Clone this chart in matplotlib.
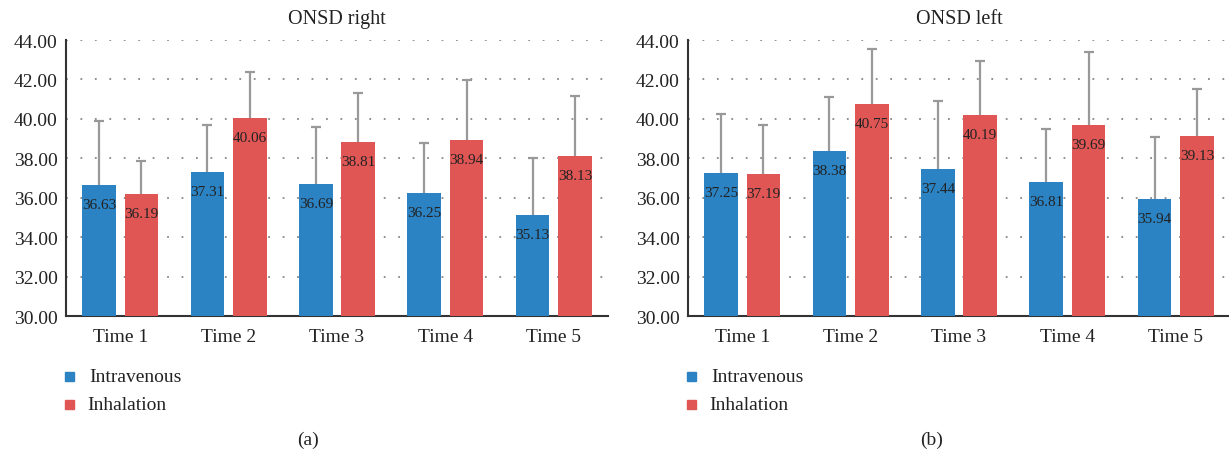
import matplotlib
matplotlib.use("Agg")
import matplotlib.pyplot as plt
from matplotlib.patches import Rectangle
import numpy as np

categories = ["Time 1", "Time 2", "Time 3", "Time 4", "Time 5"]
series_names = ["Intravenous", "Inhalation"]

right_iv = [36.63, 37.31, 36.69, 36.25, 35.13]
right_inh = [36.19, 40.06, 38.81, 38.94, 38.13]
right_iv_sd = [3.25, 2.38, 2.91, 2.51, 2.89]
right_inh_sd = [1.66, 2.34, 2.52, 3.03, 3.05]

left_iv = [37.25, 38.38, 37.44, 36.81, 35.94]
left_inh = [37.19, 40.75, 40.19, 39.69, 39.13]
left_iv_sd = [3.02, 2.72, 3.46, 2.66, 3.13]
left_inh_sd = [2.50, 2.81, 2.77, 3.68, 2.40]

titles = ["ONSD right", "ONSD left"]
panel_labels = ["(a)", "(b)"]
yticks = [30, 32, 34, 36, 38, 40, 42, 44]

BLUE = "#2B83C3"
RED = "#E05655"
FONT = "Liberation Serif"
plt.rcParams["font.family"] = [FONT, "DejaVu Serif"]

W, H = 1229, 460
fig = plt.figure(figsize=(W / 100, H / 100), dpi=100)

panels = [
    dict(px=(66, 608), label_x=308, data=(right_iv, right_inh, right_iv_sd, right_inh_sd)),
    dict(px=(688, 1230), label_x=932, data=(left_iv, left_inh, left_iv_sd, left_inh_sd)),
]

top_px, bot_px = 41, 317
bw = 0.31
off = 0.195
for i, p in enumerate(panels):
    x0, x1 = p["px"]
    ax = fig.add_axes([x0 / W, 1 - bot_px / H, (x1 - x0) / W, (bot_px - top_px) / H])
    iv, inh, ivsd, inhsd = p["data"]
    x = np.arange(len(categories))
    for vals, sds, sign, col in [(iv, ivsd, -1, BLUE), (inh, inhsd, 1, RED)]:
        xs = x + sign * off
        ax.bar(xs, np.array(vals) - 30, bottom=30, width=bw, color=col, zorder=3)
        ax.errorbar(xs, vals, yerr=[np.full(len(vals), 0.3), sds], fmt="none",
                    ecolor="#999999", elinewidth=1.6, capsize=3.5, capthick=1.6, zorder=2)
        for xv, v in zip(xs, vals):
            ax.annotate(f"{v:.2f}", (xv, v), xytext=(0, -14), textcoords="offset points",
                        ha="center", va="center", fontsize=11, color="#222222", zorder=5)
    ax.set_xlim(-0.5, 4.5)
    ax.set_ylim(30, 44)
    ax.set_yticks(yticks)
    ax.set_yticklabels([f"{t:.2f}" for t in yticks], fontsize=14, color="#222222")
    ax.set_xticks(x)
    ax.set_xticklabels(categories, fontsize=14, color="#222222")
    ax.tick_params(axis="both", length=0, pad=6)
    ax.tick_params(axis="x", pad=9)
    for t in yticks[1:]:
        ax.axhline(t, color="#888888", linestyle=(0, (1, 7)), linewidth=1.3, zorder=1)
    for s in ["top", "right"]:
        ax.spines[s].set_visible(False)
    for s in ["left", "bottom"]:
        ax.spines[s].set_color("#333333")
        ax.spines[s].set_linewidth(1.5)
    ax.set_title(titles[i], fontsize=14.5, color="#222222", pad=12)

    # legend
    mx = x0 - 1
    for j, (name, col) in enumerate(zip(series_names, [BLUE, RED])):
        yc = 377 + j * 28
        fig.add_artist(Rectangle((mx / W, 1 - (yc + 4.5) / H), 9 / W, 9 / H,
                                 transform=fig.transFigure, color=col))
        fig.text((mx + 24 - j * 2) / W, 1 - (yc + 1) / H, name, ha="left", va="center",
                 fontsize=14, color="#222222")
    fig.text(p["label_x"] / W, 1 - 440 / H, panel_labels[i], ha="center", va="center",
             fontsize=14, color="#222222")

fig.savefig("out.png", dpi=100)
